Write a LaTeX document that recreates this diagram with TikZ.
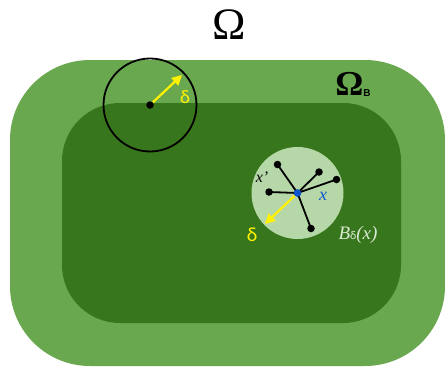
\documentclass[tikz,border=0pt]{standalone}
\usepackage{fontspec}
\setmainfont{Liberation Serif}
\newfontfamily\labelsans{Liberation Sans}
\newfontfamily\deltafont{Carlito}
\usetikzlibrary{arrows.meta}

\definecolor{outergreen}{HTML}{6AA84F}
\definecolor{innergreen}{HTML}{38761D}
\definecolor{ballgreen}{HTML}{B6D7A8}
\definecolor{ballblue}{HTML}{1155CC}
\definecolor{paleleaf}{HTML}{D9EAD3}

\tikzset{
  pt/.style={circle, fill=black, inner sep=0pt, minimum size=7.5pt},
  radius arrow/.style={draw=yellow, line width=2.2pt, -{Triangle[length=10pt,width=10pt]}},
  spoke/.style={line width=1.8pt},
}

\begin{document}
\begin{tikzpicture}[x=1pt,y=-1pt]
    \useasboundingbox (0,0) rectangle (445,367);
    \fill[white] (0,0) rectangle (445,367);

    % domains
    \fill[outergreen, rounded corners=80pt] (10,60) rectangle (445,366);
    \fill[innergreen, rounded corners=58pt] (62,103) rectangle (401,323);
    \node (omega) at (229,25) {\fontsize{45}{45}\selectfont Ω};
    \node (omegab) at (353,84) {\fontsize{35}{35}\selectfont\bfseries Ω\raisebox{-1pt}{\labelsans\bfseries\fontsize{10}{10}\selectfont B}};

    % ball at the boundary
    \draw[line width=1.8pt] (150,105) circle (46.5);
    \node[pt] (a) at (150,105) {};
    \coordinate (arim) at (182,75);
    \draw[radius arrow] (a) -- (arim);
    \node[text=yellow] at (185,97) {\deltafont\fontsize{19}{19}\selectfont δ};

    % ball round x
    \fill[ballgreen] (297.5,193) circle (46);
    \node[pt, fill=ballblue] (x) at (297.5,193) {};
    \node[pt] (p1) at (277.5,164.5) {};
    \node[pt] (p2) at (319,172) {};
    \node[pt] (p3) at (336.5,179.5) {};
    \node[pt] (p4) at (269,192) {};
    \node[pt] (p5) at (311,228.5) {};
    \foreach \p in {p1,p2,p3,p4,p5}
        \draw[spoke] (x.center) -- (\p.center);
    \node[pt, fill=ballblue] at (x) {};
    \coordinate (brim) at (265,224);
    \draw[radius arrow] (x) -- (brim);
    \node at (262,177) {\fontsize{16}{16}\selectfont\itshape x'};
    \node[text=ballblue] at (323,196) {\fontsize{18}{18}\selectfont\itshape x};
    \node[text=yellow] at (252,235) {\deltafont\fontsize{20}{20}\selectfont δ};
    \node[text=paleleaf] at (358,235) {\fontsize{19}{19}\selectfont\itshape B\raisebox{0pt}{\deltafont\upshape\fontsize{12}{12}\selectfont δ}(x)};
\end{tikzpicture}
\end{document}
